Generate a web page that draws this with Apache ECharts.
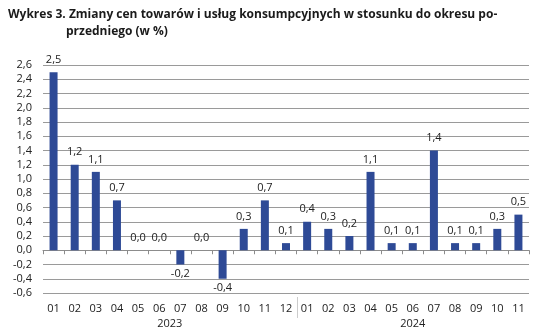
<!DOCTYPE html>
<html><head><meta charset="utf-8">
<script src="https://cdn.jsdelivr.net/npm/echarts@6/dist/echarts.min.js"></script>
<style>html,body{margin:0;padding:0;background:#fff}#c{width:542px;height:335px}</style>
</head><body><div id="c"></div>
<script>
var months = ['01','02','03','04','05','06','07','08','09','10','11','12','01','02','03','04','05','06','07','08','09','10','11'];
var values = [2.5,1.2,1.1,0.7,0.0,0.0,-0.2,0.0,-0.4,0.3,0.7,0.1,0.4,0.3,0.2,1.1,0.1,0.1,1.4,0.1,0.1,0.3,0.5];
var years = ['2023','2024'];
var yearSpans = [[0,11],[12,22]];
var yMin = -0.6, yMax = 2.6, yStep = 0.2;
var titleLine1 = 'Wykres 3. Zmiany cen towarów i usług konsumpcyjnych w stosunku do okresu po-';
var titleLine2 = 'przedniego (w %)';

function fmt(v){ return v.toFixed(1).replace('.',','); }
var FONT = '"Open Sans", "Noto Sans", sans-serif';
var chart = echarts.init(document.getElementById('c'), null, {renderer:'canvas'});
var data = values.map(function(v){
  return {value:v, label:{position: v < 0 ? 'bottom' : 'top', distance: v < 0 ? 4 : 7}};
});
chart.setOption({
  animation:false,
  grid:{left:43,right:13,top:65,bottom:42,containLabel:false},
  title:[
    {text:titleLine1,left:3,top:4,textStyle:{fontFamily:FONT,fontSize:12,fontWeight:'bold',color:'#1a1a1a'}},
    {text:titleLine2,left:61,top:21,textStyle:{fontFamily:FONT,fontSize:12,fontWeight:'bold',color:'#1a1a1a'}}
  ],
  xAxis:[
    {type:'category',data:months,position:'bottom',
     axisLine:{onZero:true,lineStyle:{color:'#8c8c8c',width:1}},
     axisTick:{show:true,alignWithLabel:false,length:4,lineStyle:{color:'#8c8c8c'}},
     axisLabel:{show:false}},
    {type:'category',data:months,position:'bottom',
     axisLine:{show:false,onZero:false},axisTick:{show:false},
     axisLabel:{show:true,margin:10,fontFamily:FONT,fontSize:11,color:'#222'}}
  ],
  yAxis:{type:'value',min:yMin,max:yMax,interval:yStep,
    axisLine:{show:false},axisTick:{show:false},
    splitLine:{lineStyle:{color:'#9a9a9a',width:1}},
    axisLabel:{margin:11,fontFamily:FONT,fontSize:11,color:'#222',formatter:function(v){return fmt(v);}}},
  series:[{type:'bar',xAxisIndex:0,data:data,barWidth:8,
    itemStyle:{color:'#2E4A96'},
    label:{show:true,fontFamily:FONT,fontSize:11,color:'#222',formatter:function(p){return fmt(p.value);}}}]
});
// year labels and separator positioned via the axis scale
var g = [];
var yBottom = chart.convertToPixel({yAxisIndex:0}, yMin);
for (var i=0;i<years.length;i++){
  var a = chart.convertToPixel({xAxisIndex:0}, yearSpans[i][0]);
  var b = chart.convertToPixel({xAxisIndex:0}, yearSpans[i][1]);
  g.push({type:'text',x:(a+b)/2,y:yBottom+31,style:{text:years[i],font:'11px '+FONT,fill:'#222',textAlign:'center',textVerticalAlign:'middle'}});
}
var bw = chart.convertToPixel({xAxisIndex:0}, 1) - chart.convertToPixel({xAxisIndex:0}, 0);
var sepX = Math.round(chart.convertToPixel({xAxisIndex:0}, yearSpans[1][0]) - bw/2) + 0.5;
g.push({type:'line',shape:{x1:sepX,y1:yBottom+4,x2:sepX,y2:yBottom+25},style:{stroke:'#cccccc',lineWidth:1}});
chart.setOption({graphic:g});
</script></body></html>
